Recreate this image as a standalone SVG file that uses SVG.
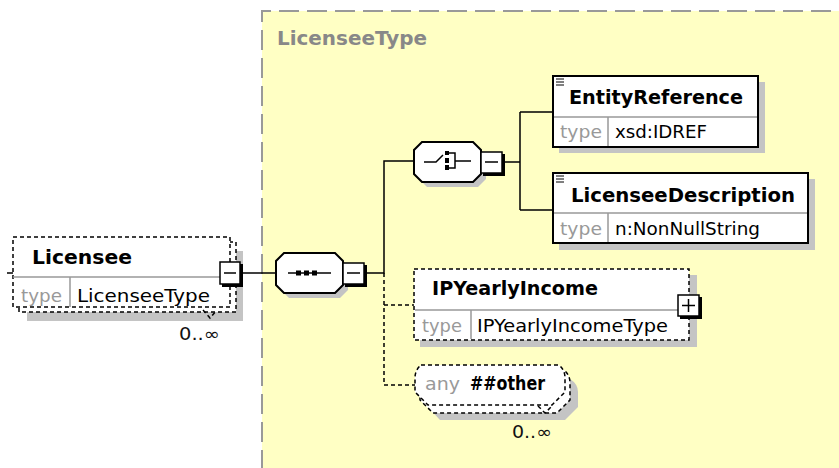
<svg xmlns="http://www.w3.org/2000/svg" width="839" height="468" viewBox="0 0 839 468">
<defs>
<style>
.bg{fill:#FFFFC4;stroke:#999;stroke-width:2;stroke-dasharray:20 8}
.hdr{font-family:"DejaVu Sans",sans-serif;font-weight:bold;font-size:19px;fill:#888}
.name{font-family:"DejaVu Sans",sans-serif;font-weight:bold;font-size:19px;fill:#000}
.typ{font-family:"DejaVu Sans",sans-serif;font-size:17px;fill:#999}
.val{font-family:"DejaVu Sans",sans-serif;font-size:17px;fill:#000}
.occ{font-family:"DejaVu Sans",sans-serif;font-size:17px;fill:#111}
.box{fill:#fff;stroke:#000;stroke-width:2}
.dbox{fill:#fff;stroke:#000;stroke-width:1.5;stroke-dasharray:4 3}
.dline{fill:none;stroke:#000;stroke-width:1.5;stroke-dasharray:4 3}
.shadow{fill:#c4c4c4;stroke:none}
.sep{stroke:#999;stroke-width:1.5}
.line{fill:none;stroke:#000;stroke-width:1.5}
.btn{fill:#fff;stroke:#000;stroke-width:1.5}
</style>
</defs>
<rect width="839" height="468" fill="#fff"/>
<g id="LicenseeType">
<path class="bg" d="M262,470 V11 H845"/>
<rect x="263" y="12" width="580" height="460" fill="#FFFFC4"/>
<text class="hdr" x="277" y="45" textLength="150" lengthAdjust="spacingAndGlyphs">LicenseeType</text>
</g>
<g id="connectors">
<line class="line" x1="7" y1="273" x2="13" y2="273"/>
<line class="line" x1="242" y1="273" x2="276" y2="273"/>
<path class="line" d="M367,273 H384 V161 H414"/>
<path class="dline" d="M384,273 V385 H415 M384,305 H414"/>
<path class="line" d="M504,162 H520 M520,112 V210 M520,112 H553 M520,210 H553"/>
</g>
<g id="Licensee">
<rect class="shadow" x="27" y="251" width="216" height="70"/>
<rect class="dbox" x="19" y="242" width="217" height="70"/>
<rect class="dbox" x="13" y="237" width="217" height="70"/>
<line class="sep" x1="13" y1="277" x2="230" y2="277"/>
<line class="sep" x1="70" y1="277" x2="70" y2="307"/>
<path class="dline" d="M203,310 L210,318 L216,311"/>
<text class="name" x="32" y="264" textLength="100" lengthAdjust="spacingAndGlyphs">Licensee</text>
<text class="typ" x="21" y="302" textLength="41" lengthAdjust="spacingAndGlyphs">type</text>
<text class="val" x="77" y="302" textLength="133" lengthAdjust="spacingAndGlyphs">LicenseeType</text>
<rect x="222" y="264" width="21" height="23" fill="#000"/>
<rect class="btn" x="220" y="262" width="20" height="22"/>
<line x1="224" y1="273" x2="236" y2="273" stroke="#000" stroke-width="1.5"/>
<text class="occ" x="179" y="340" textLength="41" lengthAdjust="spacingAndGlyphs">0..∞</text>
</g>
<g id="sequence">
<path class="shadow" d="M289,258 H340 L348,266 V290 L340,298 H289 L281,290 V266 Z"/>
<path class="box" d="M284,253 H335 L343,261 V285 L335,293 H284 L276,285 V261 Z"/>
<line x1="288" y1="273" x2="331" y2="273" stroke="#000" stroke-width="1.5"/>
<rect x="296" y="270.5" width="5" height="5" fill="#000"/>
<rect x="304" y="270.5" width="5" height="5" fill="#000"/>
<rect x="312" y="270.5" width="5" height="5" fill="#000"/>
<rect x="345" y="265" width="22" height="22" fill="#000"/>
<rect class="btn" x="343" y="263" width="21" height="21"/>
<line x1="347" y1="273" x2="360" y2="273" stroke="#000" stroke-width="1.5"/>
</g>
<g id="choice">
<path class="shadow" d="M427,147 H478 L486,155 V179 L478,187 H427 L419,179 V155 Z"/>
<path class="box" d="M422,142 H473 L481,150 V174 L473,182 H422 L414,174 V150 Z"/>
<path d="M424,162 H436 L443,155" fill="none" stroke="#000" stroke-width="1.5"/>
<rect x="445" y="151" width="4" height="4" fill="#000"/>
<rect x="445" y="158" width="4" height="5" fill="#000"/>
<rect x="445" y="165" width="4" height="5" fill="#000"/>
<path d="M449,153 H455 V168 H449 M455,161 H471" fill="none" stroke="#000" stroke-width="1.5"/>
<rect x="483" y="154" width="22" height="22" fill="#000"/>
<rect class="btn" x="481" y="152" width="21" height="21"/>
<line x1="485" y1="162" x2="498" y2="162" stroke="#000" stroke-width="1.5"/>
</g>
<g id="EntityReference">
<rect class="shadow" x="559" y="82" width="206" height="71"/>
<rect class="box" x="553" y="76" width="205" height="71"/>
<line class="sep" x1="554" y1="117" x2="757" y2="117"/>
<line class="sep" x1="608" y1="117" x2="608" y2="146"/>
<path d="M556,79 H564 M556,82 H564 M556,85 H564" stroke="#000" stroke-width="1"/>
<text class="name" x="569" y="104" textLength="174" lengthAdjust="spacingAndGlyphs">EntityReference</text>
<text class="typ" x="560" y="138" textLength="42" lengthAdjust="spacingAndGlyphs">type</text>
<text class="val" x="615" y="138" textLength="92" lengthAdjust="spacingAndGlyphs">xsd:IDREF</text>
</g>
<g id="LicenseeDescription">
<rect class="shadow" x="559" y="179" width="256" height="71"/>
<rect class="box" x="553" y="173" width="255" height="70"/>
<line class="sep" x1="554" y1="213" x2="807" y2="213"/>
<line class="sep" x1="608" y1="213" x2="608" y2="242"/>
<path d="M556,176 H564 M556,179 H564 M556,182 H564" stroke="#000" stroke-width="1"/>
<text class="name" x="571" y="202" textLength="224" lengthAdjust="spacingAndGlyphs">LicenseeDescription</text>
<text class="typ" x="560" y="235" textLength="42" lengthAdjust="spacingAndGlyphs">type</text>
<text class="val" x="615" y="235" textLength="145" lengthAdjust="spacingAndGlyphs">n:NonNullString</text>
</g>
<g id="IPYearlyIncome">
<rect class="shadow" x="420" y="275" width="277" height="72"/>
<rect class="dbox" x="414" y="269" width="275" height="71"/>
<line class="sep" x1="415" y1="310" x2="688" y2="310"/>
<line class="sep" x1="471" y1="310" x2="471" y2="339"/>
<text class="name" x="432" y="295" textLength="166" lengthAdjust="spacingAndGlyphs">IPYearlyIncome</text>
<text class="typ" x="422" y="332" textLength="40" lengthAdjust="spacingAndGlyphs">type</text>
<text class="val" x="477" y="332" textLength="191" lengthAdjust="spacingAndGlyphs">IPYearlyIncomeType</text>
<rect x="680" y="297" width="22" height="22" fill="#000"/>
<rect class="btn" x="678" y="295" width="21" height="21"/>
<path d="M682,305.5 H695 M688.5,299 V312" stroke="#000" stroke-width="1.5"/>
</g>
<g id="any">
<path class="shadow" d="M433,379 H570 Q578,384 578,392 V407 L565,420 H440 L428,407 Z"/>
<path class="dline" fill="#fff" d="M426,370 H564 Q570,375 570,383 V400 L557,413 H433 L420,400 V383 Q420,375 426,370 Z" style="fill:#fff"/>
<path class="dline" d="M421,365 H559 Q565,370 565,378 V392 L552,405 H428 L415,392 V378 Q415,370 421,365 Z" style="fill:#fff"/>
<path class="dline" d="M538,406 L545,413 L551,407"/>
<text class="typ" x="425" y="390" textLength="35" lengthAdjust="spacingAndGlyphs">any</text>
<text class="name" x="470" y="390" textLength="75" lengthAdjust="spacingAndGlyphs">##other</text>
<text class="occ" x="512" y="438" textLength="40" lengthAdjust="spacingAndGlyphs">0..∞</text>
</g>
</svg>
